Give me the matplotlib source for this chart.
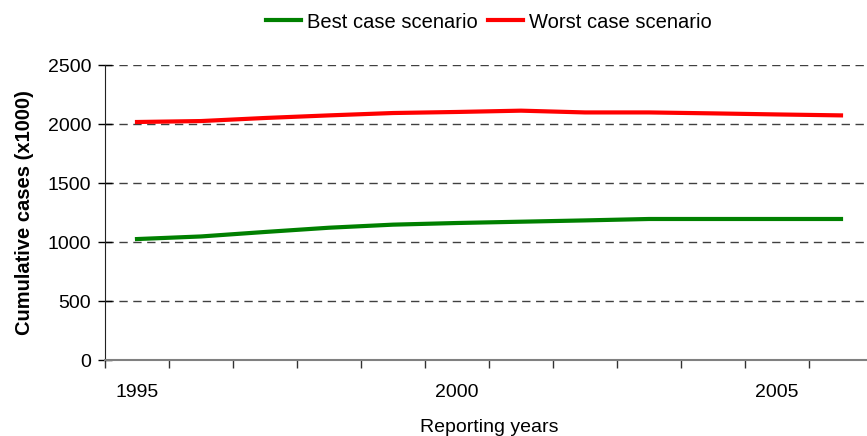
import matplotlib
matplotlib.use('Agg')
import matplotlib.pyplot as plt
from matplotlib.ticker import MultipleLocator, FixedLocator, NullFormatter

plt.rcParams['font.family'] = ['Liberation Sans', 'DejaVu Sans']

# Datos
years = [1995, 1996, 1997, 1998, 1999, 2000, 2001, 2002, 2003, 2004, 2005, 2006]
best_case = [1025, 1047, 1085, 1121, 1147, 1161, 1172, 1183, 1195, 1195, 1195, 1195]
worst_case = [2017, 2025, 2051, 2073, 2093, 2102, 2113, 2098, 2098, 2090, 2081, 2073]
year_labels = [1995, 2000, 2005]


def draw_plot():
    fig = plt.figure(figsize=(8.67, 4.36), dpi=100)
    # el eje derecho queda cortado por el borde de la imagen, como en el original
    ax = fig.add_axes([105 / 867, 1 - 360 / 436, 768 / 867, 295 / 436])

    ax.plot(years, best_case, color='#008000', lw=3, label='Best case scenario', zorder=3)
    ax.plot(years, worst_case, color='#ff0000', lw=3, label='Worst case scenario', zorder=3)

    ax.set_xlim(1994.5, 2006.5)
    ax.set_ylim(0, 2500)
    ax.yaxis.set_major_locator(MultipleLocator(500))

    # ticks entre categorias (estilo Excel), etiquetas en el centro
    ax.xaxis.set_major_locator(FixedLocator([y + 0.5 for y in range(1994, 2007)]))
    ax.xaxis.set_major_formatter(NullFormatter())
    ax.xaxis.set_minor_locator(FixedLocator(year_labels))
    ax.set_xticklabels([str(y) for y in year_labels], minor=True)
    ax.tick_params(axis='x', which='minor', length=0, pad=17, labelsize=14)
    ax.tick_params(axis='x', which='major', length=6, width=1, color='#333333')
    ax.tick_params(axis='y', direction='inout', length=10, width=1, labelsize=14, pad=5)

    # rejilla discontinua
    ax.grid(axis='y', linestyle=(0, (6, 4)), color='#404040', lw=1)
    ax.set_axisbelow(True)

    for side in ['top', 'right']:
        ax.spines[side].set_visible(False)
    ax.spines['left'].set_color('#222222')
    ax.spines['bottom'].set_color('#808080')
    ax.spines['bottom'].set_linewidth(1.5)

    ax.set_xlabel('Reporting years', fontsize=14, labelpad=13)
    ax.set_ylabel('Cumulative cases (x1000)', fontsize=14.5, fontweight='bold', labelpad=10)

    fig.legend(loc='center', bbox_to_anchor=(489 / 867, 1 - 22 / 436), ncol=2, frameon=False,
               fontsize=14.5, handlelength=1.75, handletextpad=0.3, columnspacing=0.5)

    fig.savefig('out.png', dpi=100)
    return fig


if __name__ == "__main__":
    draw_plot()
